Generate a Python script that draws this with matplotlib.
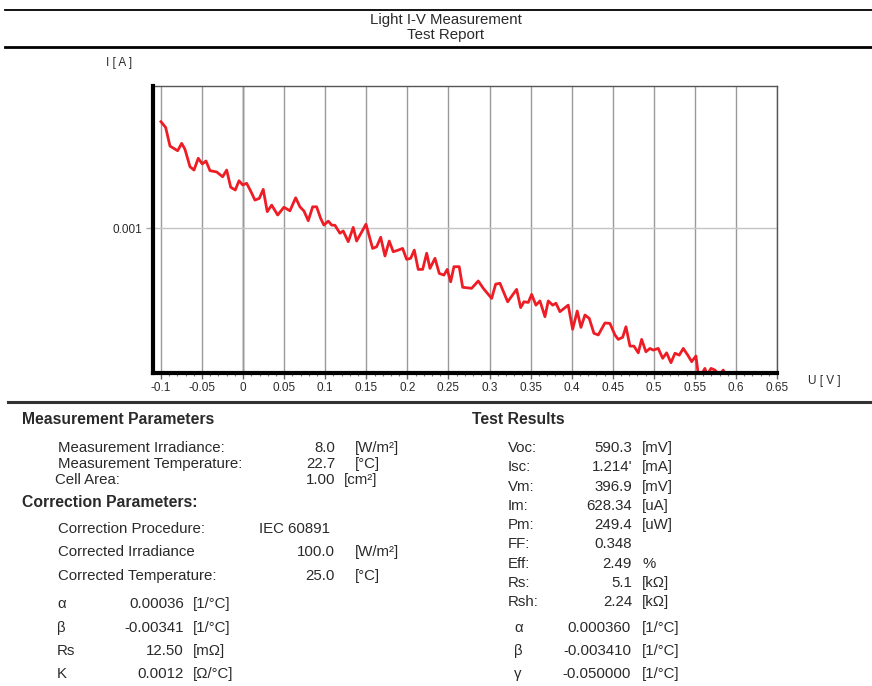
import matplotlib.pyplot as plt
from matplotlib.ticker import MultipleLocator, FixedLocator

plt.rcParams['font.family'] = ['Liberation Sans', 'DejaVu Sans']

W, H = 872, 686

# I-V curve
voltage = [-0.1000, -0.0943, -0.0890, -0.0797, -0.0748, -0.0708, -0.0647, -0.0598,
           -0.0546, -0.0497, -0.0452, -0.0403, -0.0322, -0.0249, -0.0200, -0.0151,
           -0.0095, -0.0050, -0.0005, 0.0043, 0.0096, 0.0144, 0.0197, 0.0245,
           0.0294, 0.0348, 0.0421, 0.0497, 0.0570, 0.0640, 0.0692, 0.0741,
           0.0793, 0.0847, 0.0895, 0.0944, 0.0984, 0.1037, 0.1078, 0.1118,
           0.1179, 0.1219, 0.1280, 0.1341, 0.1382, 0.1435, 0.1496, 0.1577,
           0.1626, 0.1675, 0.1727, 0.1779, 0.1828, 0.1889, 0.1942, 0.1991,
           0.2040, 0.2084, 0.2132, 0.2186, 0.2235, 0.2275, 0.2336, 0.2388,
           0.2445, 0.2485, 0.2527, 0.2567, 0.2631, 0.2673, 0.2782, 0.2863,
           0.2924, 0.3026, 0.3075, 0.3127, 0.3221, 0.3330, 0.3379, 0.3419,
           0.3472, 0.3513, 0.3565, 0.3614, 0.3675, 0.3715, 0.3769, 0.3809,
           0.3857, 0.3958, 0.4012, 0.4068, 0.4113, 0.4162, 0.4214, 0.4271,
           0.4324, 0.4405, 0.4466, 0.4527, 0.4567, 0.4621, 0.4661, 0.4710,
           0.4758, 0.4811, 0.4852, 0.4904, 0.4953, 0.4993, 0.5054, 0.5108,
           0.5156, 0.5209, 0.5258, 0.5310, 0.5359, 0.5420, 0.5461, 0.5513,
           0.5541, 0.5582, 0.5622, 0.5650, 0.5696, 0.5744, 0.5797, 0.5845,
           0.5878]
current = [0.001506, 0.001479, 0.001390, 0.001368, 0.001403, 0.001375, 0.001292, 0.001276,
           0.001332, 0.001305, 0.001319, 0.001273, 0.001267, 0.001244, 0.001276, 0.001194,
           0.001181, 0.001225, 0.001205, 0.001213, 0.001173, 0.001133, 0.001141, 0.001184,
           0.001078, 0.001109, 0.001062, 0.001099, 0.001082, 0.001144, 0.001101, 0.001081,
           0.001035, 0.001101, 0.001101, 0.001046, 0.001014, 0.001033, 0.001014, 0.001013,
           0.000975, 0.000986, 0.000935, 0.001003, 0.000938, 0.000975, 0.001018, 0.000903,
           0.000911, 0.000956, 0.000867, 0.000938, 0.000887, 0.000895, 0.000903, 0.000851,
           0.000856, 0.000895, 0.000803, 0.000803, 0.000880, 0.000808, 0.000856, 0.000784,
           0.000776, 0.000803, 0.000744, 0.000816, 0.000816, 0.000718, 0.000713, 0.000748,
           0.000713, 0.000665, 0.000733, 0.000737, 0.000649, 0.000708, 0.000621, 0.000649,
           0.000646, 0.000684, 0.000633, 0.000653, 0.000578, 0.000653, 0.000633, 0.000642,
           0.000602, 0.000633, 0.000518, 0.000605, 0.000527, 0.000586, 0.000570, 0.000499,
           0.000491, 0.000548, 0.000546, 0.000491, 0.000470, 0.000480, 0.000530, 0.000438,
           0.000438, 0.000406, 0.000470, 0.000411, 0.000427, 0.000419, 0.000427, 0.000380,
           0.000406, 0.000359, 0.000404, 0.000395, 0.000427, 0.000391, 0.000364, 0.000391,
           0.000305, 0.000305, 0.000332, 0.000300, 0.000332, 0.000324, 0.000300, 0.000324,
           0.000300]

x_ticks = [-0.1, -0.05, 0, 0.05, 0.1, 0.15, 0.2, 0.25, 0.3, 0.35, 0.4, 0.45, 0.5, 0.55, 0.6, 0.65]
x_tick_labels = ['-0.1', '-0.05', '0', '0.05', '0.1', '0.15', '0.2', '0.25', '0.3', '0.35',
                 '0.4', '0.45', '0.5', '0.55', '0.6', '0.65']
y_ticks = [0.001]
y_tick_labels = ['0.001']

# report tables
meas_labels = ['Measurement Irradiance:', 'Measurement Temperature:', 'Cell Area:']
meas_values = ['8.0', '22.7', '1.00']
meas_units = ['[W/m²]', '[°C]', '[cm²]']

corr_labels = ['Correction Procedure:', 'Corrected Irradiance', 'Corrected Temperature:']
corr_values = ['IEC 60891', '100.0', '25.0']
corr_units = ['', '[W/m²]', '[°C]']

coef_labels = ['α', 'β', 'Rs', 'K']
coef_values = ['0.00036', '-0.00341', '12.50', '0.0012']
coef_units = ['[1/°C]', '[1/°C]', '[mΩ]', '[Ω/°C]']

res_labels = ['Voc:', 'Isc:', 'Vm:', 'Im:', 'Pm:', 'FF:', 'Eff:', 'Rs:', 'Rsh:']
res_values = ['590.3', "1.214'", '396.9', '628.34', '249.4', '0.348', '2.49', '5.1', '2.24']
res_units = ['[mV]', '[mA]', '[mV]', '[uA]', '[uW]', '', '%', '[kΩ]', '[kΩ]']

tc_labels = ['α', 'β', 'γ']
tc_values = ['0.000360', '-0.003410', '-0.050000']
tc_units = ['[1/°C]', '[1/°C]', '[1/°C]']

TXT = '#2a2a2a'
FS = 10.8
FS_BOLD = 11.3
FS_TICK = 8.5

fig = plt.figure(figsize=(W / 100, H / 100), dpi=100)
fig.patch.set_facecolor('white')


def put(x, y, s, **kw):
    # y is the visual middle of the capitals; place on a common baseline
    kw.setdefault('fontsize', FS)
    kw.setdefault('color', TXT)
    off = 0.36 * kw['fontsize'] * 100 / 72
    fig.text(x / W, 1 - (y + off) / H, s, va='baseline', **kw)


def hline(y, x0, x1, **kw):
    fig.add_artist(plt.Line2D([x0 / W, x1 / W], [1 - y / H, 1 - y / H],
                              transform=fig.transFigure, **kw))


# header
hline(9.5, 5, W, color='black', lw=1.3)
put(446, 19, 'Light I-V Measurement', ha='center', fontsize=10.8)
put(446, 34, 'Test Report', ha='center', fontsize=10.8)
hline(47, 5, W, color='black', lw=2)
hline(402, 8, W, color='#333333', lw=2.2)

# plot
ax = fig.add_axes([153 / W, 1 - 373 / H, (777 - 153) / W, (373 - 86) / H])
ax.plot(voltage, current, color='#ee1d25', lw=2, zorder=3)
ax.set_xlim(-0.1097, 0.65)
ax.set_ylim(0.00031, 0.001676)

ax.xaxis.set_major_locator(FixedLocator(x_ticks))
ax.set_xticklabels(x_tick_labels)
ax.xaxis.set_minor_locator(MultipleLocator(0.01))
ax.set_yticks(y_ticks)
ax.set_yticklabels(y_tick_labels)

ax.grid(axis='x', which='major', color='#9a9a9a', lw=1)
ax.grid(axis='y', which='major', color='#c4c4c4', lw=1)
ax.axvline(0, color='#444444', lw=1, zorder=1)

for side in ['left', 'bottom']:
    ax.spines[side].set_linewidth(3)
    ax.spines[side].set_color('black')
    ax.spines[side].set_zorder(5)
for side in ['top', 'right']:
    ax.spines[side].set_linewidth(1)
    ax.spines[side].set_color('#555555')

ax.tick_params(axis='x', which='major', length=4, width=1, color='#666666',
               labelsize=FS_TICK, labelcolor=TXT, pad=2.5)
ax.tick_params(axis='x', which='minor', length=2.5, width=0.8, color='#777777')
ax.tick_params(axis='y', length=5, width=1, color='#aaaaaa', labelsize=FS_TICK,
               labelcolor=TXT, pad=3)

put(106, 62, 'I [ A ]', fontsize=FS_TICK)
put(808, 380, 'U [ V ]', fontsize=FS_TICK)

# left column
put(22, 418, 'Measurement Parameters', fontweight='bold', fontsize=FS_BOLD)
meas_y = [447, 463, 479]
meas_x = [58, 58, 55]
unit_x = [355, 355, 344]
for lab, val, unit, y, x, ux in zip(meas_labels, meas_values, meas_units, meas_y, meas_x, unit_x):
    put(x, y, lab)
    put(335, y, val, ha='right')
    put(ux, y, unit)

put(22, 501, 'Correction Parameters:', fontweight='bold', fontsize=FS_BOLD)
corr_y = [528, 551, 575]
put(58, corr_y[0], corr_labels[0])
put(259, corr_y[0], corr_values[0])
for lab, val, unit, y in zip(corr_labels[1:], corr_values[1:], corr_units[1:], corr_y[1:]):
    put(58, y, lab)
    put(335, y, val, ha='right')
    put(355, y, unit)

coef_y = [603, 627, 650, 673]
for lab, val, unit, y in zip(coef_labels, coef_values, coef_units, coef_y):
    put(57, y, lab)
    put(184, y, val, ha='right')
    put(193, y, unit)

# right column
put(472, 418, 'Test Results', fontweight='bold', fontsize=FS_BOLD)
res_y = [447, 466, 486, 505, 524, 543, 563, 582, 601]
for lab, val, unit, y in zip(res_labels, res_values, res_units, res_y):
    put(508, y, lab)
    put(632, y, val, ha='right')
    put(642, y, unit)

tc_y = [627, 650, 673]
for lab, val, unit, y in zip(tc_labels, tc_values, tc_units, tc_y):
    put(514, y, lab)
    put(631, y, val, ha='right')
    put(642, y, unit)

fig.savefig('out.png', dpi=100, facecolor='white')
